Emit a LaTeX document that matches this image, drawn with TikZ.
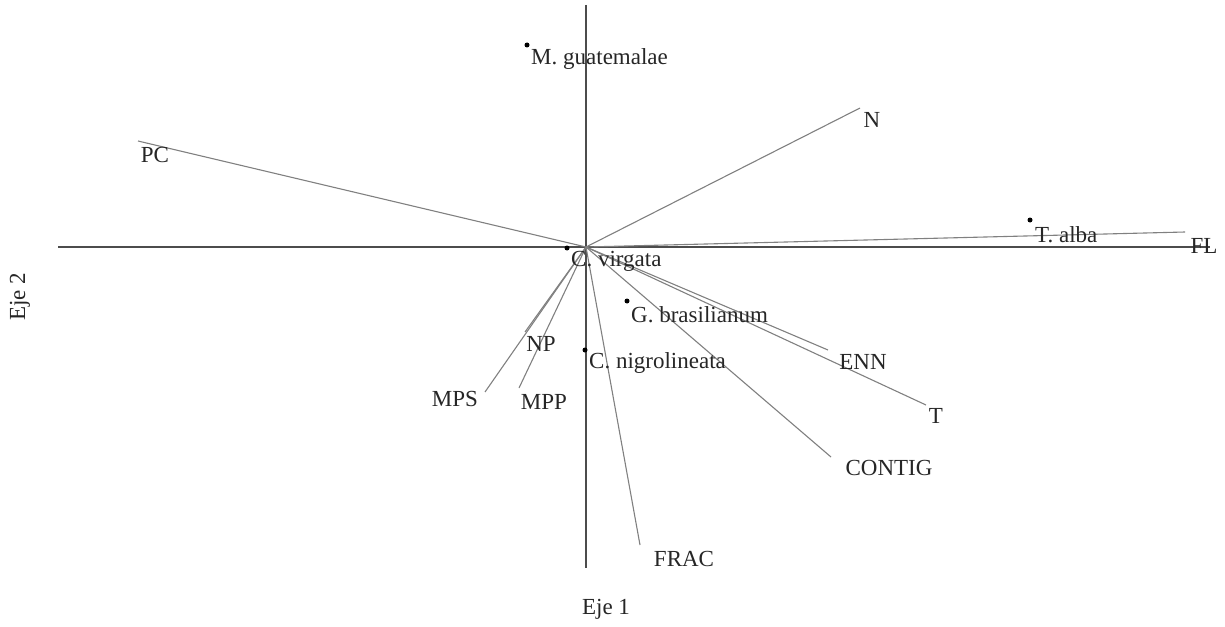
\documentclass[tikz,border=0pt]{standalone}
\usepackage{fontspec}
\setmainfont{Liberation Serif}
\begin{document}
\begin{tikzpicture}[x=1pt,y=-1pt,
  vec/.style={draw=black!50, line width=1.1pt},
  axis/.style={draw=black!70, line width=1.1pt},
  lab/.style={inner sep=0pt, font=\fontsize{23}{27}\selectfont, text=black!85},
  pt/.style={circle, fill=black, inner sep=0pt, minimum size=5pt}]
\useasboundingbox (0,0) rectangle (1225,626);
\coordinate (O) at (586,247);
% axes
\coordinate (axL) at (58,247);
\coordinate (axR) at (1210,247);
\coordinate (axT) at (586,5);
\coordinate (axB) at (586,568);
\draw[axis] (axL) -- (axR);
\draw[axis] (axT) -- (axB);
% vector endpoints
\coordinate (ePC) at (138,141);
\coordinate (eN) at (860,108);
\coordinate (eFL) at (1185,232);
\coordinate (eENN) at (828,350);
\coordinate (eT) at (926,405);
\coordinate (eCONTIG) at (831,457);
\coordinate (eFRAC) at (640,545);
\coordinate (eMPS) at (485,392);
\coordinate (eMPP) at (519,388);
\coordinate (eNP) at (525,332);
\foreach \e in {ePC,eN,eFL,eENN,eT,eCONTIG,eFRAC,eMPS,eMPP,eNP}
  \draw[vec] (O) -- (\e);
% vector labels
\node[lab] (lPC) at (155,155) {PC};
\node[lab] (lN) at (872,120) {N};
\node[lab] (lFL) at (1204,246) {FL};
\node[lab] (lENN) at (863,362) {ENN};
\node[lab] (lT) at (936,416) {T};
\node[lab] (lCONTIG) at (889,468) {CONTIG};
\node[lab] (lFRAC) at (684,559) {FRAC};
\node[lab] (lMPS) at (455,399) {MPS};
\node[lab] (lMPP) at (544,402) {MPP};
\node[lab] (lNP) at (541,344) {NP};
% species
\node[pt] (sMg) at (527,45) {};
\node[lab, anchor=west] (tMg) at (531,59) {M. guatemalae};
\node[pt] (sTa) at (1030,220) {};
\node[lab, anchor=west] (tTa) at (1035,235) {T. alba};
\node[pt] (sCv) at (567,248) {};
\node[lab, anchor=west] (tCv) at (571,261) {C. virgata};
\node[pt] (sGb) at (627,301) {};
\node[lab, anchor=west] (tGb) at (631,315) {G. brasilianum};
\node[pt] (sCn) at (585,350) {};
\node[lab, anchor=west] (tCn) at (589,363) {C. nigrolineata};
% axis titles
\node[lab] (eje1) at (606,609) {Eje 1};
\node[lab, rotate=90] (eje2) at (20,297) {Eje 2};
\end{tikzpicture}
\end{document}
